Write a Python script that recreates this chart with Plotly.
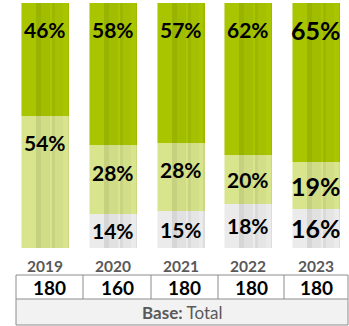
import plotly.graph_objects as go

years = ["2019", "2020", "2021", "2022", "2023"]
bottom_vals = [0, 14, 15, 18, 16]      # light gray segment
middle_vals = [54, 28, 28, 20, 19]     # light green segment
top_vals = [46, 58, 57, 62, 65]        # dark green segment
base_counts = ["180", "160", "180", "180", "180"]

W, H = 349, 326
PITCH = 67.75          # px per category
C0 = 45                # px center of first bar
BAR_W = 48             # px bar width
colors = ["#ebebeb", "#d9e58c", "#a8c500"]
series = [bottom_vals, middle_vals, top_vals]

x = list(range(len(years)))
fig = go.Figure()

# stacked segments (explicit bases, overlay mode so stripes can be layered)
cum = [0.0] * len(x)
for vals, col in zip(series, colors):
    fig.add_trace(go.Bar(
        x=x, y=[v / 100 for v in vals], base=list(cum),
        marker=dict(color=col, line=dict(width=0)),
        width=BAR_W / PITCH, hoverinfo="skip", showlegend=False,
    ))
    cum = [c + v / 100 for c, v in zip(cum, vals)]
totals = cum

# subtle vertical shading stripes running through the full bar
stripes = [  # (left offset px from center, width px, rgba)
    (-24, 1.2, "rgba(255,255,255,0.45)"),
    (-9, 5, "rgba(0,0,0,0.085)"),
    (-4, 9, "rgba(0,0,0,0.04)"),
    (7, 3, "rgba(0,0,0,0.07)"),
    (10, 8, "rgba(0,0,0,0.025)"),
    (22.8, 1.2, "rgba(0,0,0,0.06)"),
]
for off, w, col in stripes:
    fig.add_trace(go.Bar(
        x=x, y=totals, base=[0] * len(x), offset=off / PITCH, width=w / PITCH,
        marker=dict(color=col, line=dict(width=0)), hoverinfo="skip", showlegend=False,
    ))

# labels
annotations = []
for i in x:
    c = 0
    segs = [bottom_vals[i], middle_vals[i], top_vals[i]]
    for v in segs:
        lo = c / 100
        c += v
        hi = c / 100
        if v == 0:
            continue
        seg = hi - lo
        off = min(0.11, seg / 2)
        size = 25 if i == 4 else 21
        annotations.append(dict(
            x=i, y=hi - off, xref="x", yref="y", text=f"{v}%", showarrow=False,
            font=dict(family="Lato", size=size, color="#000000", weight="bold"),
            xanchor="center", yanchor="middle",
        ))

def px(xp):
    return xp / W

def py(yp):
    return 1 - yp / H

# year labels
for i, yr in enumerate(years):
    annotations.append(dict(
        x=i, y=py(266), xref="x", yref="paper", text=f"<b>{yr}</b>", showarrow=False,
        font=dict(family="Lato", size=15.5, color="#595959"), xanchor="center", yanchor="middle",
    ))

# table
col_edges = [16, 83, 151, 218, 284, 348]
t_top, t_mid, t_bot = 275, 299, 325
shapes = []
line = dict(color="#8c8c8c", width=1)
shapes.append(dict(type="rect", xref="paper", yref="paper", x0=px(col_edges[0]), x1=px(col_edges[-1]),
                   y0=py(t_bot), y1=py(t_mid), fillcolor="#f2f2f2", line=dict(width=0), layer="below"))
shapes.append(dict(type="rect", xref="paper", yref="paper", x0=px(col_edges[0]), x1=px(col_edges[-1]),
                   y0=py(t_bot), y1=py(t_top), fillcolor="rgba(0,0,0,0)", line=line))
shapes.append(dict(type="line", xref="paper", yref="paper", x0=px(col_edges[0]), x1=px(col_edges[-1]),
                   y0=py(t_mid), y1=py(t_mid), line=line))
for e in col_edges[1:-1]:
    shapes.append(dict(type="line", xref="paper", yref="paper", x0=px(e), x1=px(e),
                       y0=py(t_mid), y1=py(t_top), line=line))
for j, cnt in enumerate(base_counts):
    cx = (col_edges[j] + col_edges[j + 1]) / 2
    annotations.append(dict(
        x=px(cx), y=py((t_top + t_mid) / 2), xref="paper", yref="paper", text=f"<b>{cnt}</b>",
        showarrow=False, font=dict(family="Lato", size=19, color="#000000"),
        xanchor="center", yanchor="middle",
    ))
annotations.append(dict(
    x=px((col_edges[0] + col_edges[-1]) / 2), y=py((t_mid + t_bot) / 2), xref="paper", yref="paper",
    text="<b>Base:</b> Total", showarrow=False, font=dict(family="Lato", size=17, color="#595959"),
    xanchor="center", yanchor="middle",
))

fig.update_layout(
    width=W, height=H, margin=dict(l=0, r=0, t=0, b=0),
    barmode="overlay", bargap=0,
    paper_bgcolor="white", plot_bgcolor="white",
    xaxis=dict(range=[-C0 / PITCH, (W - C0) / PITCH], visible=False, fixedrange=True),
    yaxis=dict(range=[(248 - H) / 245, 248 / 245], visible=False, fixedrange=True),
    annotations=annotations, shapes=shapes,
)
fig.write_html("out.html", config={"displayModeBar": False},
               post_script="document.body.style.margin='0';document.body.style.overflow='hidden';")
